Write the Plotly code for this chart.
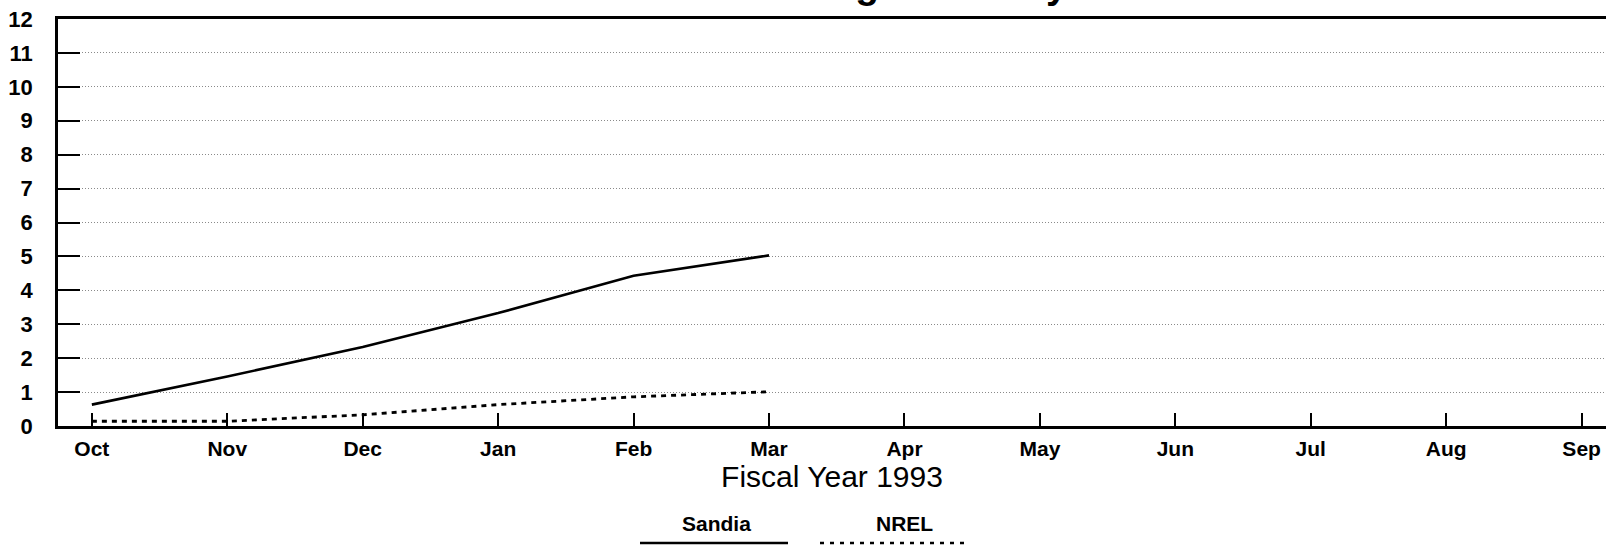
import plotly.graph_objects as go

months = ["Oct", "Nov", "Dec", "Jan", "Feb", "Mar", "Apr", "May", "Jun", "Jul", "Aug", "Sep"]
sandia = [0.63, 1.46, 2.33, 3.33, 4.43, 5.03]
nrel = [0.14, 0.14, 0.33, 0.63, 0.86, 1.01]
y_ticks = list(range(0, 13))
title_text = "Cumulative Costing Summary"
x_title = "Fiscal Year 1993"
legend_names = ["Sandia", "NREL"]

W, H = 1606, 548
ML, MR, MT, MB = 58, 0, 19, 122
PW = W - ML - MR
PH = H - MT - MB

def px_x(p):
    return (p - ML) / PW

def px_y(p):
    return (H - MB - p) / PH

FONT = "Liberation Sans, Arial, sans-serif"

fig = go.Figure()
fig.add_trace(go.Scatter(x=list(range(len(sandia))), y=sandia, mode="lines",
                         line=dict(color="black", width=2.6), name=legend_names[0]))
fig.add_trace(go.Scatter(x=list(range(len(nrel))), y=nrel, mode="lines",
                         line=dict(color="black", width=2.8, dash="5px,5px"), name=legend_names[1]))

fig.update_layout(
    width=W, height=H,
    margin=dict(l=ML, r=MR, t=MT, b=MB, pad=0, autoexpand=False),
    paper_bgcolor="white", plot_bgcolor="white",
    showlegend=False,
    font=dict(family=FONT, color="black"),
    xaxis=dict(
        range=[-0.25, 11.18], automargin=False,
        tickmode="array", tickvals=list(range(len(months))), ticktext=months,
        tickfont=dict(size=21, family=FONT, weight="bold"),
        ticks="inside", ticklen=13, tickwidth=2, tickcolor="black",
        showline=True, linecolor="black", linewidth=3, mirror=True,
        showgrid=False, zeroline=False,
        ticklabelstandoff=2,
        title=dict(text=x_title, font=dict(size=30, family=FONT), standoff=6),
    ),
    yaxis=dict(
        range=[0, 12], automargin=False,
        tickmode="array", tickvals=y_ticks, ticktext=[str(v) for v in y_ticks],
        tickfont=dict(size=22, family=FONT, weight="bold"),
        ticks="inside", ticklen=22, tickwidth=2, tickcolor="black",
        showline=True, linecolor="black", linewidth=2.5,
        showgrid=True, gridcolor="#8a8a8a", gridwidth=1, griddash="1px,2px",
        zeroline=False,
        ticklabelstandoff=18,
    ),
)

# partially visible title at the very top
fig.add_annotation(text=title_text, xref="paper", yref="paper",
                   x=px_x(790), y=px_y(-16), xanchor="center", yanchor="middle",
                   showarrow=False, font=dict(size=39, family=FONT, weight="bold"))

# custom legend: label above, line sample below
leg_items = [
    (legend_names[0], 716, 640, 788, None),
    (legend_names[1], 904, 820, 968, "4px,6px"),
]
for name, cx, x0, x1, dash in leg_items:
    fig.add_annotation(text=name, xref="paper", yref="paper",
                       x=px_x(cx), y=px_y(523), xanchor="center", yanchor="middle",
                       showarrow=False, font=dict(size=21, family=FONT, weight="bold"))
    line = dict(color="black", width=2.4)
    if dash:
        line["dash"] = dash
    fig.add_shape(type="line", xref="paper", yref="paper",
                  x0=px_x(x0), x1=px_x(x1), y0=px_y(543), y1=px_y(543), line=line)

fig.write_html("out.html", config={"displayModeBar": False},
               post_script="document.body.style.margin='0';document.body.style.overflow='hidden';")
